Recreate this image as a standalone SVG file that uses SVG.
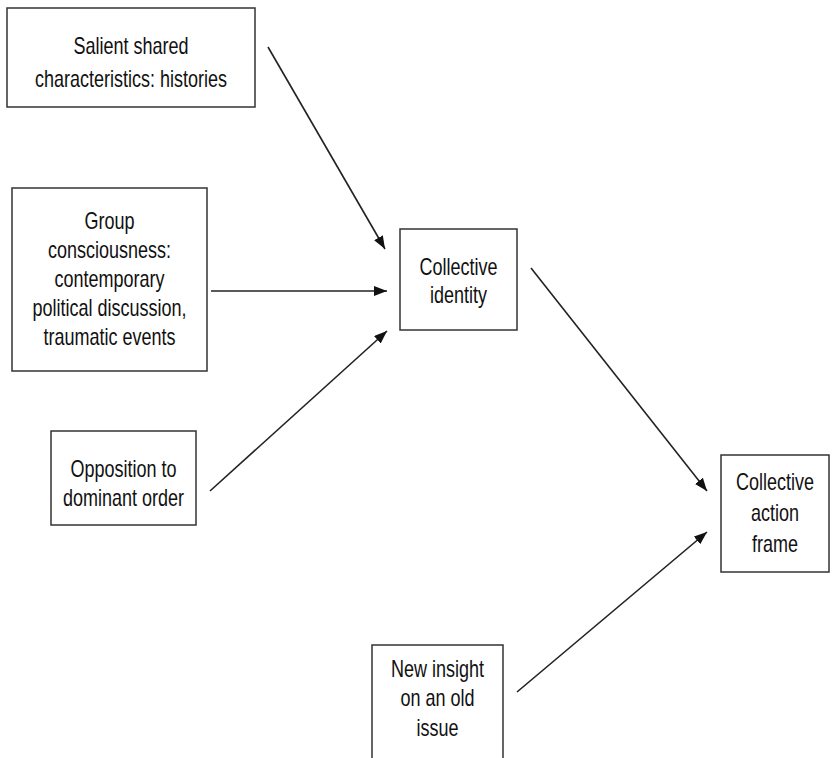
<svg xmlns="http://www.w3.org/2000/svg" width="832" height="758" viewBox="0 0 832 758">
  <style>
    .box { fill: #ffffff; stroke: #333333; stroke-width: 1.5; }
    .lbl { font-family: "Liberation Sans", Arial, Helvetica, sans-serif; font-size: 24px; fill: #111111; text-anchor: middle; }
    .edge { stroke: #222222; stroke-width: 1.6; fill: none; marker-end: url(#head); }
  </style>
  <defs>
    <marker id="head" viewBox="0 0 13 10" refX="13" refY="5" markerWidth="13" markerHeight="10" markerUnits="userSpaceOnUse" orient="auto">
      <path d="M0,0 L13,5 L0,10 Z" fill="#111111"/>
    </marker>
  </defs>
  <rect width="832" height="758" fill="#ffffff"/>

  <g id="connectors">
    <line class="edge" x1="268" y1="47" x2="385" y2="249"/>
    <line class="edge" x1="211" y1="291" x2="387" y2="291"/>
    <line class="edge" x1="210" y1="491" x2="387" y2="331"/>
    <line class="edge" x1="531" y1="268" x2="707" y2="491"/>
    <line class="edge" x1="517" y1="692" x2="707" y2="532"/>
  </g>

  <g id="salient">
    <rect class="box" x="7" y="8" width="248" height="99"/>
    <g transform="translate(131,0) scale(0.75,1)">
      <text class="lbl" x="0" y="54">Salient shared</text>
      <text class="lbl" x="0" y="87">characteristics: histories</text>
    </g>
  </g>

  <g id="group-consciousness">
    <rect class="box" x="12" y="188" width="195" height="183"/>
    <g transform="translate(109.5,0) scale(0.75,1)">
      <text class="lbl" x="0" y="229">Group</text>
      <text class="lbl" x="0" y="258">consciousness:</text>
      <text class="lbl" x="0" y="287">contemporary</text>
      <text class="lbl" x="0" y="316">political discussion,</text>
      <text class="lbl" x="0" y="345">traumatic events</text>
    </g>
  </g>

  <g id="collective-identity">
    <rect class="box" x="400" y="229" width="117" height="101"/>
    <g transform="translate(458.5,0) scale(0.75,1)">
      <text class="lbl" x="0" y="275">Collective</text>
      <text class="lbl" x="0" y="303">identity</text>
    </g>
  </g>

  <g id="opposition">
    <rect class="box" x="51" y="431" width="145" height="94"/>
    <g transform="translate(123.5,0) scale(0.75,1)">
      <text class="lbl" x="0" y="477">Opposition to</text>
      <text class="lbl" x="0" y="506">dominant order</text>
    </g>
  </g>

  <g id="collective-action-frame">
    <rect class="box" x="721" y="455" width="108" height="117"/>
    <g transform="translate(775,0) scale(0.75,1)">
      <text class="lbl" x="0" y="490">Collective</text>
      <text class="lbl" x="0" y="521">action</text>
      <text class="lbl" x="0" y="552">frame</text>
    </g>
  </g>

  <g id="new-insight">
    <rect class="box" x="372" y="645" width="131" height="130"/>
    <g transform="translate(437.5,0) scale(0.75,1)">
      <text class="lbl" x="0" y="677">New insight</text>
      <text class="lbl" x="0" y="706">on an old</text>
      <text class="lbl" x="0" y="736">issue</text>
    </g>
  </g>
</svg>
